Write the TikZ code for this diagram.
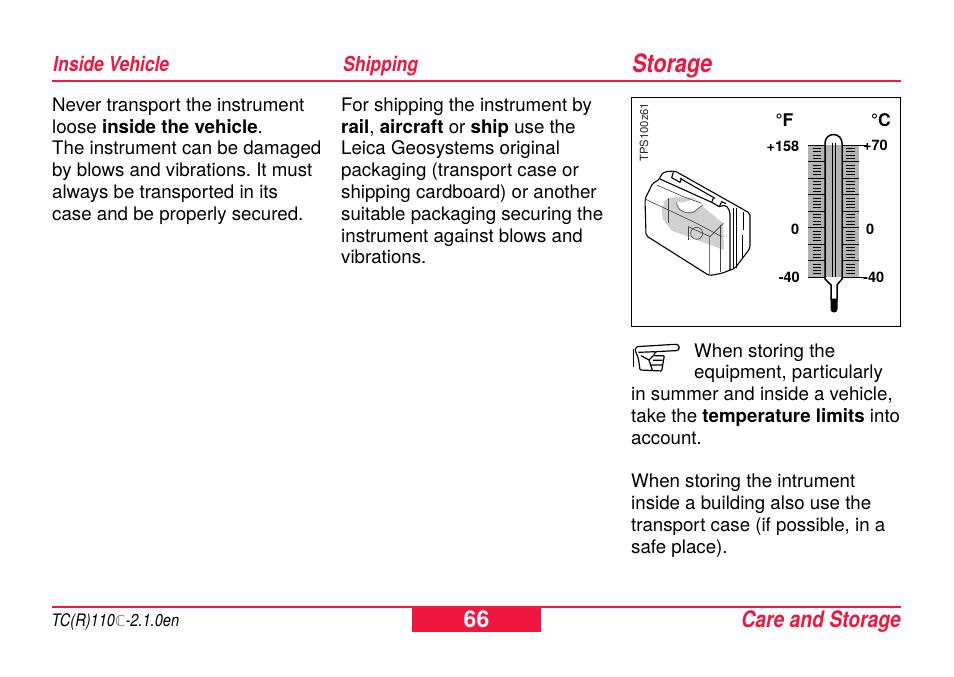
\documentclass[tikz,border=0pt]{standalone}
\usepackage{fontspec}
\usetikzlibrary{calc}
\setmainfont{TeX Gyre Heros}
\newfontfamily\narrowfont[FakeStretch=0.85]{TeX Gyre Heros}
\newfontfamily\symfont{DejaVu Sans}
\definecolor{leicared}{HTML}{F0173F}
\definecolor{casegray}{HTML}{D0D0D0}
\definecolor{scalegray}{HTML}{B4B4B4}
\tikzset{
  bodytext/.style={anchor=base west, inner sep=0pt, align=left, font=\fontsize{18.7}{21.8}\selectfont\frenchspacing},
  headtext/.style={anchor=base west, inner sep=0pt, text=leicared, font=\narrowfont\fontsize{20.6}{24}\selectfont\bfseries\itshape},
  scalelabel/.style={inner sep=0pt, font=\fontsize{14.5}{15}\selectfont\bfseries},
  unitlabel/.style={inner sep=0pt, font=\fontsize{17.5}{20}\selectfont\bfseries},
  redrule/.style={leicared, line width=2pt},
  caseline/.style={black, line width=1.1pt, line join=round},
  casethin/.style={black!75, line width=.6pt, line join=round},
}
\begin{document}
\begin{tikzpicture}[x=1pt, y=-1pt]
\useasboundingbox (0,0) rectangle (954,677);

\node[headtext] (headvehicle) at (53,71.5) {Inside Vehicle};
\node[headtext] (headshipping) at (343,71.5) {Shipping};
\node[headtext, font=\narrowfont\fontsize{25.4}{30}\selectfont\bfseries\itshape] (headstorage) at (632,73) {Storage};
\draw[redrule] (52,81) -- (901,81);

\node[bodytext] (textvehicle) at (52,220.3) {Never transport the instrument\\
loose \textbf{inside the vehicle}.\\
The instrument can be damaged\\
by blows and vibrations. It must\\
always be transported in its\\
case and be properly secured.};

\node[bodytext] (textshipping) at (341,263.9) {For shipping the instrument by\\
\textbf{rail}, \textbf{aircraft} or \textbf{ship} use the\\
Leica Geosystems original\\
packaging (transport case or\\
shipping cardboard) or another\\
suitable packaging securing the\\
instrument against blows and\\
vibrations.};

\node[bodytext] (textstorage) at (631,553.3) {\hspace*{63pt}When storing the\\
\hspace*{63pt}equipment, particularly\\
in summer and inside a vehicle,\\
take the \textbf{temperature limits} into\\
account.\\[21.8pt]
When storing the intrument\\
inside a building also use the\\
transport case (if possible, in a\\
safe place).};

% picture frame
\draw[black, line width=.9pt] (631.5,97.5) rectangle (900.5,326.5);
\node[rotate=90, anchor=base west, inner sep=0pt, text=black!85, font=\fontsize{11.3}{12}\selectfont] (picturecode) at (648,162) {TPS100z61};

% case
\begin{scope}[shift={(630,95)}, x=.3333pt, y=-.3333pt]
\fill[casegray] (105,315) -- (135,305) -- (195,310) -- (225,340) -- (280,385) -- (282,465) -- (125,407) -- (98,372) -- (95,345) -- cycle;
\fill[white] (140,322) .. controls (140,345) and (165,358) .. (190,352) -- (218,330) -- (190,312) -- (160,322) -- cycle;
\draw[caseline, rounded corners=2pt] (68,265) -- (45,312) -- (48,422) -- (238,542) -- (275,535) -- (315,520) -- (360,460) -- (360,355) -- (325,335) -- (135,228) -- (105,230) -- (92,240) -- (90,252) -- cycle;
\draw[caseline] (150,250) -- (255,310);
\draw[caseline] (130,232) -- (125,248) -- (150,262) -- (155,250);
\draw[caseline] (250,310) -- (245,322) -- (268,335) -- (275,320) -- (288,326);
\draw[caseline, rounded corners=2pt] (90,252) -- (245,322) (268,335) -- (288,330) -- (300,350) -- (300,525);
\draw[caseline, line width=1.5pt] (310,340) -- (310,522);
\draw[caseline] (320,338) -- (320,518);
\draw[caseline] (340,350) -- (340,405);
\draw[caseline, line width=1.5pt] (338,420) -- (338,485);
\draw[casethin] (45,312) -- (200,385) -- (275,425);
\draw[casethin] (80,270) -- (160,305) -- (215,325);
\draw[casethin] (270,390) -- (270,532);
\draw[casethin, black!55] (238,425) -- (238,540);
\draw[casethin] (175,395) -- (240,425) -- (280,385);
\draw[casethin] (175,395) -- (175,435);
\draw[casethin] (200,415) circle (18);
\draw[casethin] (140,322) .. controls (140,345) and (165,358) .. (190,352) -- (218,330);
\draw[casethin] (115,310) -- (115,385);
\end{scope}

% thermometer scales
\fill[scalegray] (808,145) rectangle (859,277);
\foreach \i in {0,...,8} {
  \draw[black, line width=.8pt] ($(808,145)+(0,\i*16.5)$) --++(21,0);
  \draw[black, line width=.8pt] ($(838,145)+(0,\i*16.5)$) --++(21,0);
}
\foreach \i in {0,...,7}
  \foreach \j in {1,...,4} {
    \draw[black, line width=.6pt] ($(812.5,145)+(0,\i*16.5+\j*3.3)$) --++(8.5,0);
    \draw[black, line width=.6pt] ($(846,145)+(0,\i*16.5+\j*3.3)$) --++(8.5,0);
  }
\draw[black, line width=.8pt] (859,145) -- (868,145);
\draw[black, line width=.8pt] (859,277) -- (866,277);

% thermometer tube
\fill[white] (825,279) -- (825,143) arc[start angle=180, end angle=360, radius=8.5] -- (842,279) -- (837,285) -- (837,305) -- (831,305) -- (831,285) -- cycle;
\fill[scalegray] (826,145) rectangle (841,277);
\draw[black, line width=1pt, fill=black] (831,299) -- (831,309) arc[start angle=180, end angle=0, radius=3] -- (837,299) -- cycle;
\draw[black, line width=1.5pt] (831,300) -- (831,285) -- (825,279) -- (825,143) arc[start angle=180, end angle=360, radius=8.5] -- (842,279) -- (837,285) -- (837,300);
\draw[black, line width=.9pt] (832.3,143) -- (832.3,277);
\draw[black, line width=.9pt] (835.7,143) -- (835.7,277);

\node[unitlabel] (unitf) at (784.5,120) {°F};
\node[unitlabel] (unitc) at (881,120) {°C};
\node[scalelabel, anchor=east] (lefttop) at (799.5,146) {+158};
\node[scalelabel, anchor=west] (righttop) at (863,145) {+70};
\node[scalelabel, anchor=east] (leftzero) at (799.5,229) {0};
\node[scalelabel, anchor=west] (rightzero) at (866,229) {0};
\node[scalelabel, anchor=east] (leftlow) at (800,277.5) {-40};
\node[scalelabel, anchor=west] (rightlow) at (863,277.5) {-40};

% pointing hand
\begin{scope}[shift={(625,335)}, x=.3333pt, y=-.3333pt]
\draw[black, line width=1.5pt] (25,42) -- (25,95);
\draw[black, line width=1.2pt, line join=round, rounded corners=1pt] (35,35) -- (150,28) .. controls (166,28) and (166,47) .. (150,47) -- (92,50) -- (85,62) -- (118,62) -- (110,108) -- (45,105) -- (40,70) -- (30,45) -- cycle;
\draw[black, line width=1.2pt] (40,52) -- (92,50) (85,62) -- (72,75) -- (48,62) (84,76) -- (113,76) (80,90) -- (111,90) (72,75) -- (82,106);
\end{scope}

% footer
\draw[redrule] (52,607) -- (901,607);
\fill[leicared] (412,607) rectangle (541,632);
\node[inner sep=0pt, text=white, font=\fontsize{23}{26}\selectfont\bfseries] (pagenumber) at (476.5,619.5) {66};
\node[anchor=base west, inner sep=0pt, font=\narrowfont\fontsize{17.2}{20}\selectfont\itshape] (manualcode) at (51.5,626) {TC(R)110{\symfont\fontsize{15}{14}\selectfont\textcolor{black!55}{ℂ}}-2.1.0en};
\node[headtext, anchor=base east, font=\narrowfont\fontsize{22.7}{26}\selectfont\bfseries\itshape] (headcare) at (901,627) {Care and Storage};
\end{tikzpicture}
\end{document}
